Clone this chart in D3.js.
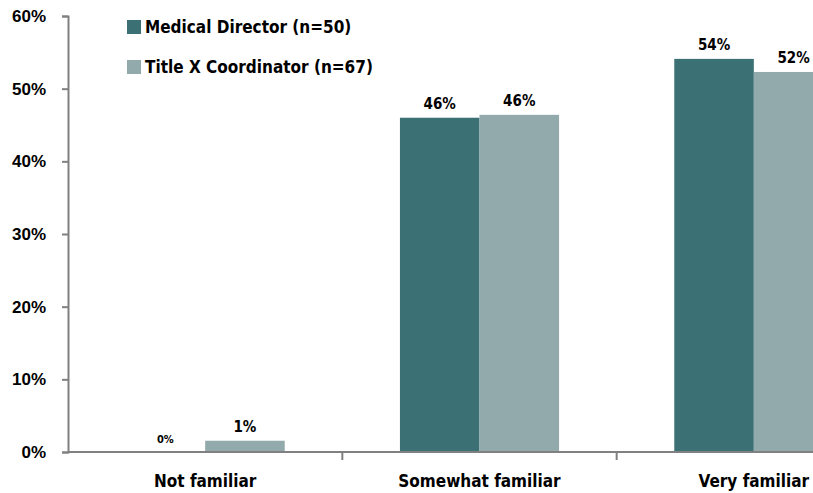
<!DOCTYPE html>
<html>
<head>
<meta charset="utf-8">
<script src="https://cdnjs.cloudflare.com/ajax/libs/d3/7.8.5/d3.min.js"></script>
<style>
body { margin: 0; background: #fff; }
svg { display: block; font-family: "DejaVu Sans Condensed", "DejaVu Sans", sans-serif; font-weight: bold; }
</style>
</head>
<body>
<div id="chart"></div>
<script>
var w = 813,
	h = 493;

var categories = ["Not familiar", "Somewhat familiar", "Very familiar"];
var seriesNames = ["Medical Director (n=50)", "Title X Coordinator (n=67)"];
var medicalDirector = [0, 46.0, 54.1];
var titleXCoordinator = [1.55, 46.4, 52.3];
var valueLabels = [["0%", "46%", "54%"], ["1%", "46%", "52%"]];
var yTicks = [0, 10, 20, 30, 40, 50, 60];
var colors = ["#3b7175", "#92aaac"];

var root = d3.select("#chart").append("svg").attr("width", w).attr("height", h);

var x0 = d3.scaleBand().domain(categories).range([68, 891]).paddingInner(0.42).paddingOuter(0.21);
var x1 = d3.scaleBand().domain([0, 1]).range([0, x0.bandwidth()]);
var y = d3.scaleLinear().domain([0, 60]).range([452, 16]);

var series = [medicalDirector, titleXCoordinator];

// bars
series.forEach(function(vals, s) {
	root.append("g").selectAll("rect").data(vals).enter().append("rect")
		.attr("x", function(d, i) { return x0(categories[i]) + x1(s); })
		.attr("y", function(d) { return y(d); })
		.attr("width", x1.bandwidth())
		.attr("height", function(d) { return y(0) - y(d); })
		.style("fill", colors[s]);

	root.append("g").selectAll("text").data(vals).enter().append("text")
		.attr("x", function(d, i) { return x0(categories[i]) + x1(s) + x1.bandwidth() / 2; })
		.attr("y", function(d) { return y(d) - 9; })
		.attr("text-anchor", "middle")
		.style("font-size", function(d) { return d === 0 ? "11px" : "15px"; })
		.style("fill", "#000")
		.text(function(d, i) { return valueLabels[s][i]; });
});

// y axis
var yAxis = root.append("g").attr("transform", "translate(68,0)")
	.call(d3.axisLeft(y).tickValues(yTicks).tickSize(6).tickPadding(16).tickFormat(function(d) { return d + "%"; }));
yAxis.selectAll("path, line").style("stroke", "#808080").style("stroke-width", 2);
yAxis.selectAll("text").style("font-size", "17px").style("fill", "#000").style("font-family", null);

// x axis
var xAxisScale = d3.scaleLinear().domain([0, 3]).range([68, 891]);
var xAxis = root.append("g").attr("transform", "translate(0,452)");
xAxis.append("line").attr("x1", 68).attr("x2", w).attr("y1", 0).attr("y2", 0)
	.style("stroke", "#808080").style("stroke-width", 2);
xAxis.selectAll("line.tick").data([1, 2]).enter().append("line").attr("class", "tick")
	.attr("x1", function(d) { return xAxisScale(d); }).attr("x2", function(d) { return xAxisScale(d); })
	.attr("y1", 0).attr("y2", 8)
	.style("stroke", "#808080").style("stroke-width", 2);
xAxis.selectAll("text").data(categories).enter().append("text")
	.attr("x", function(d) { return x0(d) + x0.bandwidth() / 2; })
	.attr("y", 35)
	.attr("text-anchor", "middle")
	.style("font-size", "17px")
	.text(function(d) { return d; });

// legend
var legend = root.append("g").selectAll("g").data(seriesNames).enter().append("g")
	.attr("transform", function(d, i) { return "translate(127," + (20 + i * 40) + ")"; });
legend.append("rect").attr("width", 14).attr("height", 14)
	.style("fill", function(d, i) { return colors[i]; });
legend.append("text").attr("x", 18).attr("y", 13)
	.style("font-size", "17px")
	.text(function(d) { return d; });
</script>
</body>
</html>
